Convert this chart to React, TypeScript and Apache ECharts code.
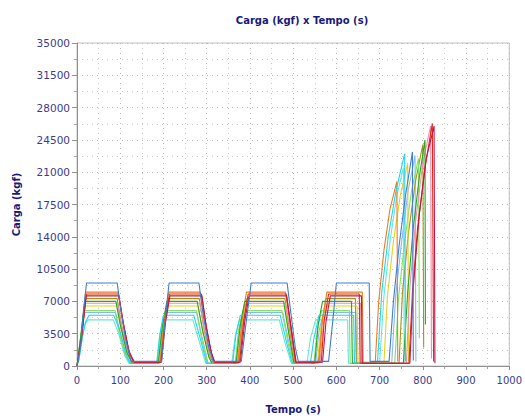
import React, { useEffect, useRef } from "react";
import * as echarts from "echarts";

const titleText = "Carga (kgf) x Tempo (s)";
const xName = "Tempo (s)";
const yName = "Carga (kgf)";

const blue = [[0,0],[8,2000],[15,6000],[22,9000],[93,9000],[100,6500],[112,3000],[125,500],[196,500],[205,5500],[213,9000],[282,9000],[292,5500],[305,2000],[315,500],[380,500],[392,5000],[403,9000],[486,9000],[494,6000],[505,2000],[512,500],[582,500],[592,5000],[600,9000],[676,9000],[678,500],[722,500],[732,7000],[745,13000],[760,18500],[776,23200],[778,600]];
const cyan = [[0,0],[5,800],[12,3000],[20,4800],[28,5500],[85,5500],[98,4000],[112,1500],[122,300],[185,300],[192,3500],[200,5500],[270,5500],[285,3000],[300,300],[360,300],[368,3500],[378,5500],[470,5500],[485,2500],[498,300],[540,300],[548,3000],[560,5500],[640,5500],[642,300],[695,300],[705,8000],[720,14000],[738,19000],[758,23000],[760,500]];
const green = [[0,0],[8,3000],[18,7000],[90,7000],[100,4500],[115,1500],[128,300],[188,300],[198,4500],[208,7000],[278,7000],[290,4000],[305,1000],[312,300],[368,300],[378,4500],[388,7000],[478,7000],[490,3500],[502,300],[550,300],[558,4500],[568,7000],[635,7000],[637,300],[755,300],[765,8000],[778,15000],[792,20500],[805,24500],[806,4500]];
const orange = [[0,0],[10,3500],[20,8000],[95,8000],[105,5000],[118,2000],[130,400],[192,400],[202,5000],[212,8000],[285,8000],[295,5000],[308,2000],[318,400],[372,400],[382,5000],[392,8000],[482,8000],[492,5000],[505,400],[560,400],[568,5000],[578,8000],[660,8000],[662,400],[690,400],[698,7000],[710,12500],[724,17000],[740,20000],[742,500]];
const red = [[0,0],[10,3000],[22,7800],[96,7800],[108,4500],[120,1500],[132,400],[194,400],[204,5000],[214,7800],[288,7800],[298,4500],[310,1500],[318,400],[376,400],[386,5000],[396,7800],[484,7800],[494,4500],[506,400],[565,400],[572,5000],[582,7800],[653,7800],[655,300],[768,300],[776,8000],[788,15000],[805,21500],[822,26300],[825,500]];
const yellow = [[0,0],[9,3000],[18,6500],[92,6500],[102,4000],[116,1200],[128,300],[190,300],[200,4200],[210,6500],[280,6500],[292,3500],[306,800],[314,300],[370,300],[380,4000],[390,6500],[480,6500],[492,3000],[503,300],[556,300],[564,4000],[574,6500],[648,6500],[650,300],[710,300],[718,7500],[732,13500],[748,18500],[765,22000],[767,500]];
const lightGreen = [[0,0],[6,2000],[16,6000],[88,6000],[98,3500],[112,1000],[124,300],[186,300],[196,4000],[206,6000],[276,6000],[288,3000],[302,300],[366,300],[374,4000],[384,6000],[474,6000],[488,2500],[500,300],[548,300],[556,4000],[566,6000],[630,6000],[632,300],[735,300],[744,7500],[758,13500],[774,19000],[790,22500],[792,3000]];
const pink = [[0,0],[9,3000],[19,6800],[94,6800],[104,4200],[117,1500],[129,400],[193,400],[203,4500],[212,6800],[284,6800],[294,4000],[308,1200],[316,400],[374,400],[384,4500],[393,6800],[482,6800],[493,4000],[505,400],[562,400],[570,4500],[580,6800],[656,6800],[658,300],[762,300],[770,8500],[784,16000],[800,22000],[818,26000],[820,800]];
const darkRed = [[0,0],[11,3200],[21,7600],[97,7600],[107,4600],[121,1500],[133,400],[195,400],[205,4800],[215,7600],[289,7600],[299,4300],[311,1400],[319,400],[378,400],[388,4800],[398,7600],[485,7600],[495,4300],[507,400],[568,400],[576,4800],[586,7600],[658,7600],[660,300],[770,300],[778,8500],[792,16500],[808,22500],[826,26000],[828,300]];
const olive = [[0,0],[10,3000],[20,7300],[93,7300],[103,4400],[117,1400],[129,300],[191,300],[201,4600],[211,7300],[283,7300],[294,4000],[307,1200],[315,300],[373,300],[383,4600],[393,7300],[481,7300],[492,3800],[504,300],[558,300],[566,4600],[576,7300],[644,7300],[646,300],[745,300],[753,8000],[767,14500],[783,20000],[800,24000],[802,2000]];
const teal = [[0,0],[4,600],[10,2500],[18,4500],[26,5000],[84,5000],[96,3600],[110,1200],[120,300],[184,300],[191,3200],[199,5000],[268,5000],[283,2600],[298,300],[358,300],[366,3200],[376,5000],[468,5000],[483,2200],[496,300],[532,300],[540,3000],[552,5000],[626,5000],[628,300],[700,300],[710,7500],[724,13500],[740,18500],[755,21500],[757,400]];
const lightBlue = [[0,0],[7,2500],[17,5800],[89,5800],[99,3800],[113,1200],[125,300],[187,300],[197,3800],[207,5800],[277,5800],[289,3200],[303,300],[367,300],[375,3800],[385,5800],[476,5800],[489,2800],[501,300],[552,300],[560,3800],[570,5800],[645,5800],[647,300],[728,300],[737,7500],[751,13500],[766,19000],[782,22800],[784,500]];

const seriesList = [
  { name: "CP1", data: lightBlue, color: "#8cb8f0" },
  { name: "CP2", data: teal, color: "#6ae6d6" },
  { name: "CP3", data: olive, color: "#a89018" },
  { name: "CP4", data: lightGreen, color: "#86e066" },
  { name: "CP5", data: yellow, color: "#e8d020" },
  { name: "CP6", data: pink, color: "#f08cb0" },
  { name: "CP7", data: orange, color: "#f07a20" },
  { name: "CP8", data: green, color: "#22a822" },
  { name: "CP9", data: cyan, color: "#22d4f0" },
  { name: "CP10", data: red, color: "#e02818" },
  { name: "CP11", data: darkRed, color: "#c01848" },
  { name: "CP12", data: blue, color: "#3f7fd0" },
];

const labelColor = "#3c3c8c";
const navy = "#1a1a7a";
const font = "DejaVu Sans, Verdana, sans-serif";

export default function App() {
  const ref = useRef<HTMLDivElement>(null);
  useEffect(() => {
    if (!ref.current) return;
    const chart = echarts.init(ref.current, null, { renderer: "svg" });
    chart.setOption({
      animation: false,
      backgroundColor: "#ffffff",
      title: {
        text: titleText,
        left: 297,
        textAlign: "center",
        top: 10,
        textStyle: { fontFamily: font, fontSize: 10, fontWeight: "bold", color: navy },
      },
      grid: { left: 77, right: 10, top: 43, bottom: 52, show: true, borderColor: "#c0c0c0", borderWidth: 1 },
      xAxis: {
        type: "value",
        min: 0,
        max: 1000,
        interval: 100,
        name: xName,
        nameLocation: "middle",
        nameGap: 38,
        nameTextStyle: { fontFamily: font, fontSize: 10, fontWeight: "bold", color: navy },
        axisLine: { show: true, lineStyle: { color: "#909090" } },
        axisTick: { show: true, length: 4, lineStyle: { color: "#909090" } },
        minorTick: { show: true, splitNumber: 2, length: 3, lineStyle: { color: "#a0a0a0" } },
        axisLabel: { fontFamily: font, fontSize: 10, color: labelColor, margin: 9, formatter: (v: number) => String(v) },
        splitLine: { show: true, lineStyle: { type: [1, 4], color: "#b8b8b8" } },
        minorSplitLine: { show: true, lineStyle: { type: [1, 4], color: "#c8c8c8" } },
      },
      yAxis: {
        type: "value",
        min: 0,
        max: 35000,
        interval: 3500,
        name: yName,
        nameLocation: "middle",
        nameGap: 56,
        nameRotate: 90,
        nameTextStyle: { fontFamily: font, fontSize: 10, fontWeight: "bold", color: navy },
        axisLine: { show: true, lineStyle: { color: "#909090" } },
        axisTick: { show: true, length: 5, lineStyle: { color: "#909090" } },
        minorTick: { show: true, splitNumber: 2, length: 3, lineStyle: { color: "#a0a0a0" } },
        axisLabel: { fontFamily: font, fontSize: 10.5, color: labelColor, margin: 7, formatter: (v: number) => String(v) },
        splitLine: { show: true, lineStyle: { type: [1, 4], color: "#b8b8b8" } },
        minorSplitLine: { show: true, lineStyle: { type: [1, 4], color: "#c8c8c8" } },
      },
      series: seriesList.map((s) => ({
        name: s.name,
        type: "line",
        data: s.data,
        showSymbol: false,
        lineStyle: { width: 1.1, color: s.color },
        itemStyle: { color: s.color },
      })),
    });
    return () => chart.dispose();
  }, []);
  return <div ref={ref} style={{ position: "absolute", left: 0, top: 0, width: 525, height: 419 }} />;
}
